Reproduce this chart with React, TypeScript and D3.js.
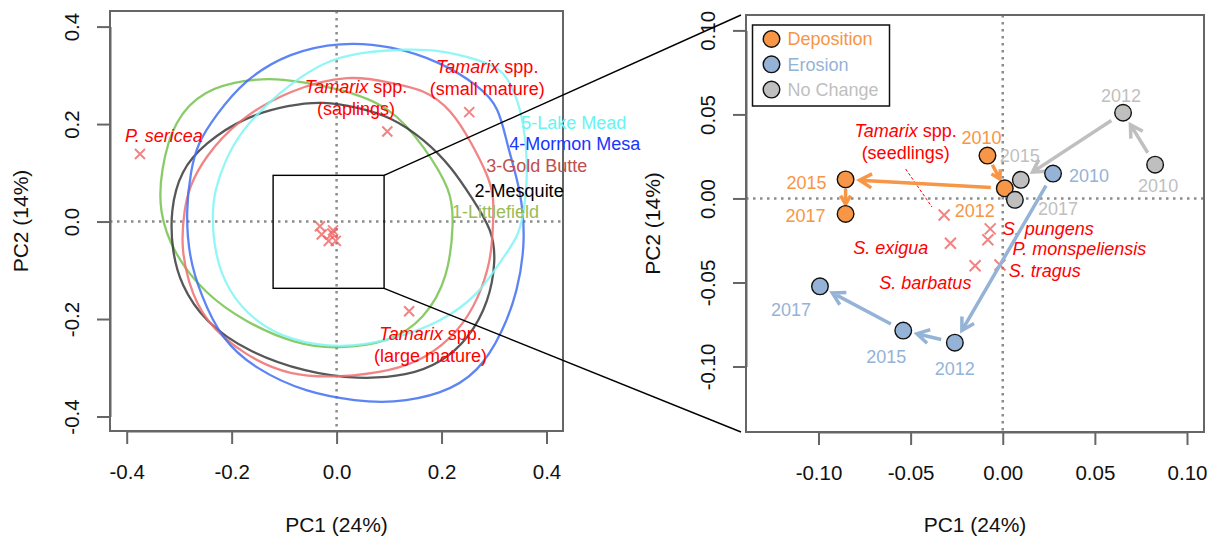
import React, { useEffect, useRef } from 'react';
import * as d3 from 'd3';

const W = 1216;
const H = 541;
const FONT = '"Liberation Sans", Arial, Helvetica, sans-serif';

// ---- left panel: site contours, [PC1, PC2]
const littlefield = [
  [-0.334, 0.021], [-0.330, 0.103], [-0.306, 0.205], [-0.248, 0.267], [-0.172, 0.286], [-0.109, 0.291],
  [0.007, 0.269], [0.102, 0.233], [0.165, 0.151], [0.216, 0.062], [0.220, 0.000], [0.210, -0.114],
  [0.165, -0.197], [0.102, -0.244], [0.001, -0.258], [-0.077, -0.248], [-0.172, -0.203], [-0.248, -0.145],
  [-0.306, -0.065],
];
const mesquite = [
  [-0.312, 0.023], [-0.293, 0.103], [-0.248, 0.158], [-0.172, 0.212], [-0.088, 0.236], [-0.025, 0.243],
  [0.039, 0.231], [0.102, 0.212], [0.166, 0.165], [0.216, 0.110], [0.254, 0.048], [0.293, -0.018],
  [0.299, -0.080], [0.286, -0.162], [0.248, -0.237], [0.197, -0.285], [0.134, -0.312], [0.039, -0.319],
  [-0.057, -0.305], [-0.166, -0.264], [-0.248, -0.203], [-0.293, -0.127], [-0.309, -0.059],
];
const goldButte = [
  [-0.286, 0.023], [-0.277, 0.069], [-0.248, 0.130], [-0.185, 0.206], [-0.088, 0.267], [0.026, 0.298],
  [0.102, 0.280], [0.165, 0.267], [0.216, 0.226], [0.254, 0.158], [0.286, 0.089], [0.296, 0.048],
  [0.293, -0.025], [0.289, -0.080], [0.267, -0.155], [0.229, -0.223], [0.166, -0.278], [0.102, -0.302],
  [0.007, -0.315], [-0.088, -0.312], [-0.172, -0.271], [-0.248, -0.203], [-0.280, -0.121], [-0.292, -0.045],
];
const mormonMesa = [
  [-0.283, 0.021], [-0.274, 0.103], [-0.261, 0.158], [-0.229, 0.212], [-0.172, 0.288], [-0.088, 0.342],
  [0.007, 0.363], [0.102, 0.356], [0.197, 0.322], [0.267, 0.274], [0.305, 0.233], [0.321, 0.150],
  [0.346, 0.064], [0.355, -0.039], [0.340, -0.141], [0.312, -0.223], [0.267, -0.305], [0.197, -0.350],
  [0.102, -0.367], [0.039, -0.363], [-0.057, -0.346], [-0.153, -0.298], [-0.217, -0.237], [-0.255, -0.148],
  [-0.277, -0.073],
];
const lakeMead = [
  [-0.234, 0.014], [-0.229, 0.062], [-0.210, 0.123], [-0.178, 0.185], [-0.128, 0.240], [-0.088, 0.277],
  [-0.025, 0.322], [0.039, 0.342], [0.134, 0.349], [0.197, 0.346], [0.261, 0.329], [0.312, 0.309],
  [0.336, 0.259], [0.352, 0.197], [0.359, 0.115], [0.355, 0.043], [0.344, -0.028], [0.312, -0.073],
  [0.267, -0.148], [0.197, -0.203], [0.102, -0.240], [0.007, -0.257], [-0.088, -0.240], [-0.153, -0.203],
  [-0.204, -0.141], [-0.229, -0.066],
];
const siteNames = ['1-Littlefield', '2-Mesquite', '3-Gold Butte', '4-Mormon Mesa', '5-Lake Mead'];
const siteContours = [littlefield, mesquite, goldButte, mormonMesa, lakeMead];
const siteLineColors = ['#74c24c', '#3a3a3a', '#ef6f6f', '#3f6ef2', '#80f4f4'];
const siteTextColors = ['#9bbb59', '#000000', '#c0504d', '#1a35ff', '#66f5f5'];
// label anchors (start of text, baseline) in data units
const siteLabelPos = [[0.220, 0.007], [0.263, 0.051], [0.285, 0.101], [0.329, 0.147], [0.352, 0.190]];

// ---- species scores
const speciesNames = [
  'P. sericea', 'Tamarix (saplings)', 'Tamarix (small mature)', 'Tamarix (large mature)',
  'Tamarix (seedlings)', 'S. pungens', 'P. monspeliensis', 'S. tragus', 'S. exigua', 'S. barbatus',
];
const speciesPC1 = [-0.3747, 0.0966, 0.2527, 0.1382, -0.0318, -0.0068, -0.0081, -0.0015, -0.0284, -0.0150];
const speciesPC2 = [0.1386, 0.1848, 0.2246, -0.1839, -0.0098, -0.0181, -0.0246, -0.0396, -0.0267, -0.0400];

// ---- right panel: trajectories by year
const years = ['2010', '2012', '2015', '2017'];
const depositionPC1 = [-0.0083, 0.0011, -0.0853, -0.0853];
const depositionPC2 = [0.0255, 0.0060, 0.0113, -0.0092];
const erosionPC1 = [0.0273, -0.0260, -0.0540, -0.0992];
const erosionPC2 = [0.0148, -0.0858, -0.0786, -0.0523];
const noChangePC1 = [0.0827, 0.0653, 0.0098, 0.0066];
const noChangePC2 = [0.0201, 0.0510, 0.0111, -0.0008];
const groupNames = ['Deposition', 'Erosion', 'No Change'];
const groupColors = ['#f79646', '#95b3d7', '#bfbfbf'];

// year label offsets (px) from each point
const yearOffsets = [
  [[-6, -18], [-30, 22], [-39, 3], [-40, 2]],
  [[36, 2], [0, 26], [-17, 26], [-29, 23]],
  [[3, 21], [-2, -17], [-1, -24], [43, 9]],
];

const ticksL = [-0.4, -0.2, 0, 0.2, 0.4];
const ticksR = [-0.1, -0.05, 0, 0.05, 0.1];

export default function App() {
  const ref = useRef<SVGSVGElement>(null);

  useEffect(() => {
    const svg = d3.select(ref.current);
    svg.selectAll('*').remove();

    const xL = d3.scaleLinear().domain([-0.4, 0.4]).range([126.7, 546.5]);
    const yL = d3.scaleLinear().domain([-0.4, 0.4]).range([416.5, 26.6]);
    const xR = d3.scaleLinear().domain([-0.1, 0.1]).range([818.5, 1187]);
    const yR = d3.scaleLinear().domain([-0.1, 0.1]).range([366.5, 30.4]);
    const boxL = { x0: 110, x1: 563, y0: 11, y1: 431 };
    const boxR = { x0: 746, x1: 1204, y0: 15, y1: 432 };

    const frame = (x, y, box, ticks, digits, cx) => {
      const g = svg.append('g');
      // dotted zero lines
      g.append('line').attr('x1', x(0)).attr('x2', x(0)).attr('y1', box.y0).attr('y2', box.y1)
        .attr('stroke', '#8c8c8c').attr('stroke-width', 2.5).attr('stroke-dasharray', '2.5,4.5');
      g.append('line').attr('x1', box.x0).attr('x2', box.x1).attr('y1', y(0)).attr('y2', y(0))
        .attr('stroke', '#8c8c8c').attr('stroke-width', 2.5).attr('stroke-dasharray', '2.5,4.5');

      const fmt = (d) => d.toFixed(digits);
      const ax = g.append('g').attr('transform', `translate(0,${box.y1})`)
        .call(d3.axisBottom(x).tickValues(ticks).tickSize(13).tickSizeOuter(0).tickFormat(fmt));
      ax.selectAll('text').attr('y', 41).attr('dy', '0.35em');
      const ay = g.append('g').attr('transform', `translate(${box.x0},0)`)
        .call(d3.axisLeft(y).tickValues(ticks).tickSize(13).tickSizeOuter(0).tickFormat(fmt));
      ay.selectAll('text')
        .attr('transform', 'rotate(-90)')
        .attr('x', 0).attr('y', -38).attr('dy', '0.35em')
        .attr('text-anchor', 'middle');
      [ax, ay].forEach((a) => {
        a.select('.domain').attr('stroke', '#666').attr('stroke-width', 2);
        a.selectAll('.tick line').attr('stroke', '#666').attr('stroke-width', 2);
        a.selectAll('text').attr('font-family', FONT).attr('font-size', 20.5).attr('fill', '#111');
      });

      g.append('rect').attr('x', box.x0).attr('y', box.y0)
        .attr('width', box.x1 - box.x0).attr('height', box.y1 - box.y0)
        .attr('fill', 'none').attr('stroke', '#666').attr('stroke-width', 2);

      g.append('text').attr('x', cx).attr('y', 525).attr('dy', '0.35em')
        .attr('text-anchor', 'middle').attr('font-family', FONT).attr('font-size', 21).attr('fill', '#111')
        .text('PC1 (24%)');
      const my = (box.y0 + box.y1) / 2;
      return { g, my };
    };

    // ---------- left panel
    const left = frame(xL, yL, boxL, ticksL, 1, (boxL.x0 + boxL.x1) / 2);
    svg.append('text').attr('transform', `translate(21,${left.my}) rotate(-90)`).attr('dy', '0.35em')
      .attr('text-anchor', 'middle').attr('font-family', FONT).attr('font-size', 21).attr('fill', '#111')
      .text('PC2 (14%)');

    // smoothed closed contours
    const contour = d3.line().x((d) => xL(d[0] * 1.015)).y((d) => yL(d[1] * 1.015)).curve(d3.curveBasisClosed);
    svg.append('g').selectAll('path').data(siteContours).join('path')
      .attr('d', (d) => contour(d))
      .attr('fill', 'none')
      .attr('stroke', (d, i) => siteLineColors[i])
      .attr('stroke-width', 2.3)
      .attr('stroke-opacity', 0.85);

    const cross = (g, cx, cy, s) => {
      g.append('path')
        .attr('d', `M${cx - s},${cy - s}L${cx + s},${cy + s}M${cx - s},${cy + s}L${cx + s},${cy - s}`)
        .attr('stroke', '#ee5a5a').attr('stroke-opacity', 0.75).attr('stroke-width', 2).attr('fill', 'none');
    };
    const crossesL = svg.append('g');
    speciesNames.forEach((n, i) => cross(crossesL, xL(speciesPC1[i]), yL(speciesPC2[i]), 5));

    svg.append('g').selectAll('text').data(siteNames).join('text')
      .attr('x', (d, i) => xL(siteLabelPos[i][0]))
      .attr('y', (d, i) => yL(siteLabelPos[i][1]))
      .attr('font-family', FONT).attr('font-size', 18)
      .attr('fill', (d, i) => siteTextColors[i])
      .text((d) => d);

    const tamarix = (g, x, y, sub) => {
      const t = g.append('text').attr('x', x).attr('y', y).attr('text-anchor', 'middle')
        .attr('font-family', FONT).attr('font-size', 18).attr('fill', '#ff0000');
      t.append('tspan').attr('font-style', 'italic').text('Tamarix');
      t.append('tspan').text(' spp.');
      g.append('text').attr('x', x).attr('y', y + 22).attr('text-anchor', 'middle')
        .attr('font-family', FONT).attr('font-size', 18).attr('fill', '#ff0000').text(sub);
    };
    const labL = svg.append('g');
    labL.append('text').attr('x', xL(-0.329)).attr('y', yL(0.163)).attr('text-anchor', 'middle')
      .attr('font-family', FONT).attr('font-size', 18).attr('font-style', 'italic').attr('fill', '#ff0000')
      .text('P. sericea');
    tamarix(labL, xL(0.037), yL(0.264), '(saplings)');
    tamarix(labL, xL(0.287), yL(0.305), '(small mature)');
    tamarix(labL, xL(0.179), yL(-0.243), '(large mature)');

    // ---------- right panel
    const right = frame(xR, yR, boxR, ticksR, 2, (boxR.x0 + boxR.x1) / 2);
    svg.append('text').attr('transform', `translate(653,${right.my}) rotate(-90)`).attr('dy', '0.35em')
      .attr('text-anchor', 'middle').attr('font-family', FONT).attr('font-size', 21).attr('fill', '#111')
      .text('PC2 (14%)');

    const crossesR = svg.append('g');
    speciesNames.forEach((n, i) => {
      const px = speciesPC1[i];
      const py = speciesPC2[i];
      if (px > -0.13 && px < 0.1 && py > -0.13 && py < 0.1) cross(crossesR, xR(px), yR(py), 5.5);
    });

    const labR = svg.append('g').attr('font-family', FONT).attr('font-size', 18).attr('fill', '#ff0000');
    const t1 = labR.append('text').attr('x', xR(-0.0527)).attr('y', yR(0.0401)).attr('dy', '0.35em')
      .attr('text-anchor', 'middle');
    t1.append('tspan').attr('font-style', 'italic').text('Tamarix');
    t1.append('tspan').text(' spp.');
    labR.append('text').attr('x', xR(-0.0527)).attr('y', yR(0.0271)).attr('dy', '0.35em')
      .attr('text-anchor', 'middle').text('(seedlings)');
    labR.append('line')
      .attr('x1', xR(-0.0527)).attr('y1', yR(0.0175)).attr('x2', xR(-0.0384)).attr('y2', yR(-0.0051))
      .attr('stroke', '#ff0000').attr('stroke-width', 1).attr('stroke-dasharray', '3,2');
    const italR = [
      ['S. pungens', 0.0, -0.0178, 'start'],
      ['P. monspeliensis', 0.0053, -0.0301, 'start'],
      ['S. tragus', 0.0032, -0.0431, 'start'],
      ['S. exigua', -0.0608, -0.0294, 'middle'],
      ['S. barbatus', -0.042, -0.0503, 'middle'],
    ];
    italR.forEach(([txt, px, py, anc]) => {
      labR.append('text').attr('x', xR(px)).attr('y', yR(py)).attr('dy', '0.35em')
        .attr('text-anchor', anc).attr('font-style', 'italic').text(txt);
    });

    const groups = [
      [depositionPC1, depositionPC2],
      [erosionPC1, erosionPC2],
      [noChangePC1, noChangePC2],
    ];

    // arrows between consecutive years
    const arrowG = svg.append('g');
    groups.forEach(([gx, gy], gi) => {
      for (let i = 0; i < years.length - 1; i++) {
        const x1 = xR(gx[i]), y1 = yR(gy[i]), x2 = xR(gx[i + 1]), y2 = yR(gy[i + 1]);
        const len = Math.hypot(x2 - x1, y2 - y1);
        if (len < 25) continue;
        const ux = (x2 - x1) / len, uy = (y2 - y1) / len;
        const off = Math.min(14, len * 0.28);
        const sx = x1 + ux * off, sy = y1 + uy * off;
        const ex = x2 - ux * off, ey = y2 - uy * off;
        const hl = len < 45 ? 10 : 14;
        const a = Math.PI / 6;
        const ang = Math.atan2(uy, ux);
        const h1x = ex - hl * Math.cos(ang - a), h1y = ey - hl * Math.sin(ang - a);
        const h2x = ex - hl * Math.cos(ang + a), h2y = ey - hl * Math.sin(ang + a);
        arrowG.append('path')
          .attr('d', `M${sx},${sy}L${ex},${ey}M${h1x},${h1y}L${ex},${ey}L${h2x},${h2y}`)
          .attr('fill', 'none').attr('stroke', groupColors[gi]).attr('stroke-width', 3.5)
          .attr('stroke-linejoin', 'miter');
      }
    });

    // points and year labels
    const ptG = svg.append('g');
    groups.forEach(([gx, gy], gi) => {
      ptG.append('g').selectAll('circle').data(years).join('circle')
        .attr('cx', (d, i) => xR(gx[i])).attr('cy', (d, i) => yR(gy[i])).attr('r', 8.3)
        .attr('fill', groupColors[gi]).attr('stroke', '#111').attr('stroke-width', 1.4);
      ptG.append('g').selectAll('text').data(years).join('text')
        .attr('x', (d, i) => xR(gx[i]) + yearOffsets[gi][i][0])
        .attr('y', (d, i) => yR(gy[i]) + yearOffsets[gi][i][1])
        .attr('dy', '0.35em').attr('text-anchor', 'middle')
        .attr('font-family', FONT).attr('font-size', 18).attr('fill', groupColors[gi])
        .text((d) => d);
    });

    // legend
    const lg = svg.append('g');
    lg.append('rect').attr('x', 752.5).attr('y', 25).attr('width', 137).attr('height', 81)
      .attr('fill', '#fff').attr('stroke', '#111').attr('stroke-width', 1.5);
    groupNames.forEach((n, i) => {
      lg.append('circle').attr('cx', 771.5).attr('cy', 39 + i * 25.3).attr('r', 8.3)
        .attr('fill', groupColors[i]).attr('stroke', '#111').attr('stroke-width', 1.4);
      lg.append('text').attr('x', 787.5).attr('y', 39 + i * 25.3).attr('dy', '0.35em')
        .attr('font-family', FONT).attr('font-size', 18).attr('fill', groupColors[i]).text(n);
    });

    // zoom box on left panel and connector lines
    const zx0 = xL(-0.121), zx1 = xL(0.0905), zy0 = yL(0.0948), zy1 = yL(-0.137);
    const zg = svg.append('g');
    zg.append('rect').attr('x', zx0).attr('y', zy0).attr('width', zx1 - zx0).attr('height', zy1 - zy0)
      .attr('fill', 'none').attr('stroke', '#000').attr('stroke-width', 1.4);
    zg.append('line').attr('x1', zx1).attr('y1', zy0).attr('x2', boxR.x0 - 5).attr('y2', boxR.y0)
      .attr('stroke', '#000').attr('stroke-width', 1.4);
    zg.append('line').attr('x1', zx1).attr('y1', zy1).attr('x2', boxR.x0 - 5).attr('y2', boxR.y1)
      .attr('stroke', '#000').attr('stroke-width', 1.4);
  }, []);

  return (
    <svg
      ref={ref}
      width={W}
      height={H}
      style={{ position: 'absolute', left: 0, top: 0, background: '#fff' }}
    />
  );
}
